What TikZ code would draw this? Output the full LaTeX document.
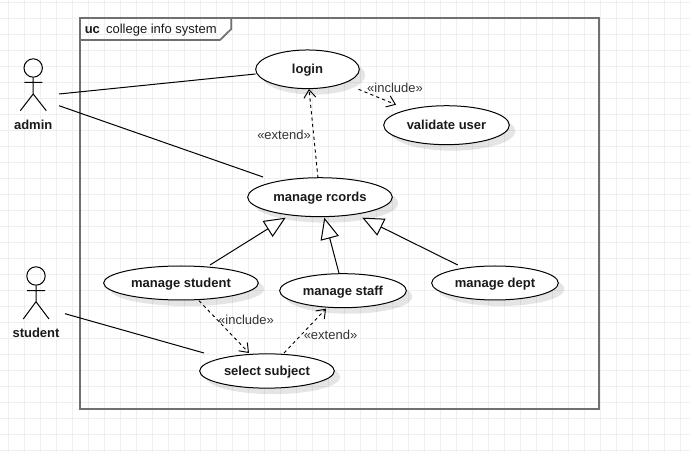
\documentclass[tikz,border=0pt]{standalone}
\usepackage{fontspec}
\setmainfont{Liberation Sans}
\usetikzlibrary{arrows.meta,shapes.geometric,shadows,calc}
\definecolor{gridc}{HTML}{EFEFEF}
\definecolor{framec}{HTML}{707070}
\definecolor{textc}{HTML}{1A1A1A}
\definecolor{stereoc}{HTML}{333333}
\tikzset{
  usecase/.style={ellipse,draw=black,line width=.75pt,fill=white,inner sep=0pt,
    font=\fontsize{9.75pt}{11pt}\selectfont\bfseries,text=textc,text height=7pt,text depth=0pt,
    drop shadow={shadow xshift=4.5pt,shadow yshift=-4.5pt,fill=black,opacity=.1}},
  assoc/.style={draw=black,line width=.75pt},
  depend/.style={draw=black,line width=.7pt,dash pattern=on 2.4pt off 2.4pt,
    -{Straight Barb[length=6pt,width=9pt,line width=.7pt]}},
  generalize/.style={draw=black,line width=.75pt,
    -{Triangle[open,length=16pt,width=14pt,line width=.75pt,fill=white]}},
  stereo/.style={inner sep=0pt,font=\fontsize{9.75pt}{11pt}\selectfont,text=stereoc,text height=7pt,text depth=0pt},
  actorname/.style={inner sep=0pt,font=\fontsize{9.75pt}{11pt}\selectfont\bfseries,text=textc,text height=7pt,text depth=0pt},
  actorhead/.style={circle,draw=black,line width=.75pt,inner sep=0pt,minimum size=13.8pt},
  actorline/.style={draw=black,line width=.75pt},
  framebox/.style={draw=framec,line width=1.3pt}
}
\begin{document}
\begin{tikzpicture}[x=.75pt,y=-.75pt]
\useasboundingbox (0,0) rectangle (690,452);
\fill[white] (0,0) rectangle (690,452);
% grid
\foreach \gx in {0,...,42} {\draw[gridc,line width=.5pt] ({8.3+16*\gx},0) -- ({8.3+16*\gx},452);}
\foreach \gy in {0,...,28} {\draw[gridc,line width=.5pt] (0,{2.3+16*\gy}) -- (690,{2.3+16*\gy});}
% frame
\draw[framebox] (80,17.7) rectangle (599,408.7);
\draw[framebox] (80,40) -- (220,40) -- (231.3,29) -- (231.3,17.7);
\node[anchor=west,inner sep=0pt,font=\fontsize{9.75pt}{11pt}\selectfont,text=textc,text height=7pt,text depth=0pt] (title) at (84.5,28.7) {\textbf{uc}\hspace{4.6pt}college info system};
% use cases
\node[usecase,minimum width=77.7pt,minimum height=29pt] (login) at (307.5,69.3) {login};
\node[usecase,minimum width=94.2pt,minimum height=29.2pt] (validate) at (446.5,125.2) {validate user};
\node[usecase,minimum width=108.5pt,minimum height=29.2pt] (rcords) at (320,197.2) {manage rcords};
\node[usecase,minimum width=116pt,minimum height=25.5pt] (mstudent) at (181,283) {manage student};
\node[usecase,minimum width=95pt,minimum height=25.5pt] (mstaff) at (343,290.7) {manage staff};
\node[usecase,minimum width=95pt,minimum height=25.5pt] (mdept) at (495,283) {manage dept};
\node[usecase,minimum width=101pt,minimum height=25.7pt] (select) at (267,371) {select subject};
% actors
\node[actorhead] (adminhead) at (33.2,68) {};
\draw[actorline] (adminhead.south) -- (33.2,94) (24.3,82.3) -- (42.3,82.3)
  (20.3,110.7) -- (33.2,94) -- (46.3,110.7);
\node[actorname] (admin) at (33.2,125) {admin};
\node[actorhead] (studenthead) at (36,276) {};
\draw[actorline] (studenthead.south) -- (36,301.7) (27,290.7) -- (45,290.7)
  (23.3,319) -- (36,301.7) -- (49,319);
\node[actorname] (student) at (36,332.7) {student};
\coordinate (adminA) at (59,94);
\coordinate (adminB) at (59,105.7);
\coordinate (studentA) at (65,313.7);
% associations
\draw[assoc] (adminA) -- ($(login.center)+(-52,4.7)$);
\draw[assoc] (adminB) -- ($(rcords.center)+(-57,-20.2)$);
\draw[assoc] (studentA) -- ($(select.center)+(-63,-18)$);
% dependencies
\draw[depend] ($(rcords.center)+(-2,-19.2)$) -- ($(login.center)+(1.5,19.7)$);
\draw[depend] ($(login.center)+(51,20)$) -- ($(validate.center)+(-50.5,-20.5)$);
\draw[depend] ($(mstudent.center)+(18,17.7)$) -- ($(select.center)+(-18,-18)$);
\draw[depend] ($(select.center)+(17,-18)$) -- ($(mstaff.center)+(-17,18)$);
% generalizations
\draw[generalize] ($(mstudent.center)+(29,-18)$) -- ($(rcords.center)+(-34.3,20.5)$);
\draw[generalize] ($(mstaff.center)+(-4,-17.5)$) -- ($(rcords.center)+(4.3,20.5)$);
\draw[generalize] ($(mdept.center)+(-37.3,-18)$) -- ($(rcords.center)+(42.3,20.5)$);
% labels
\node[stereo] (lblext1) at (284,135) {«extend»};
\node[stereo] (lblinc1) at (395,88) {«include»};
\node[stereo] (lblinc2) at (246,319.7) {«include»};
\node[stereo] (lblext2) at (330.5,334.7) {«extend»};
\end{tikzpicture}
\end{document}
